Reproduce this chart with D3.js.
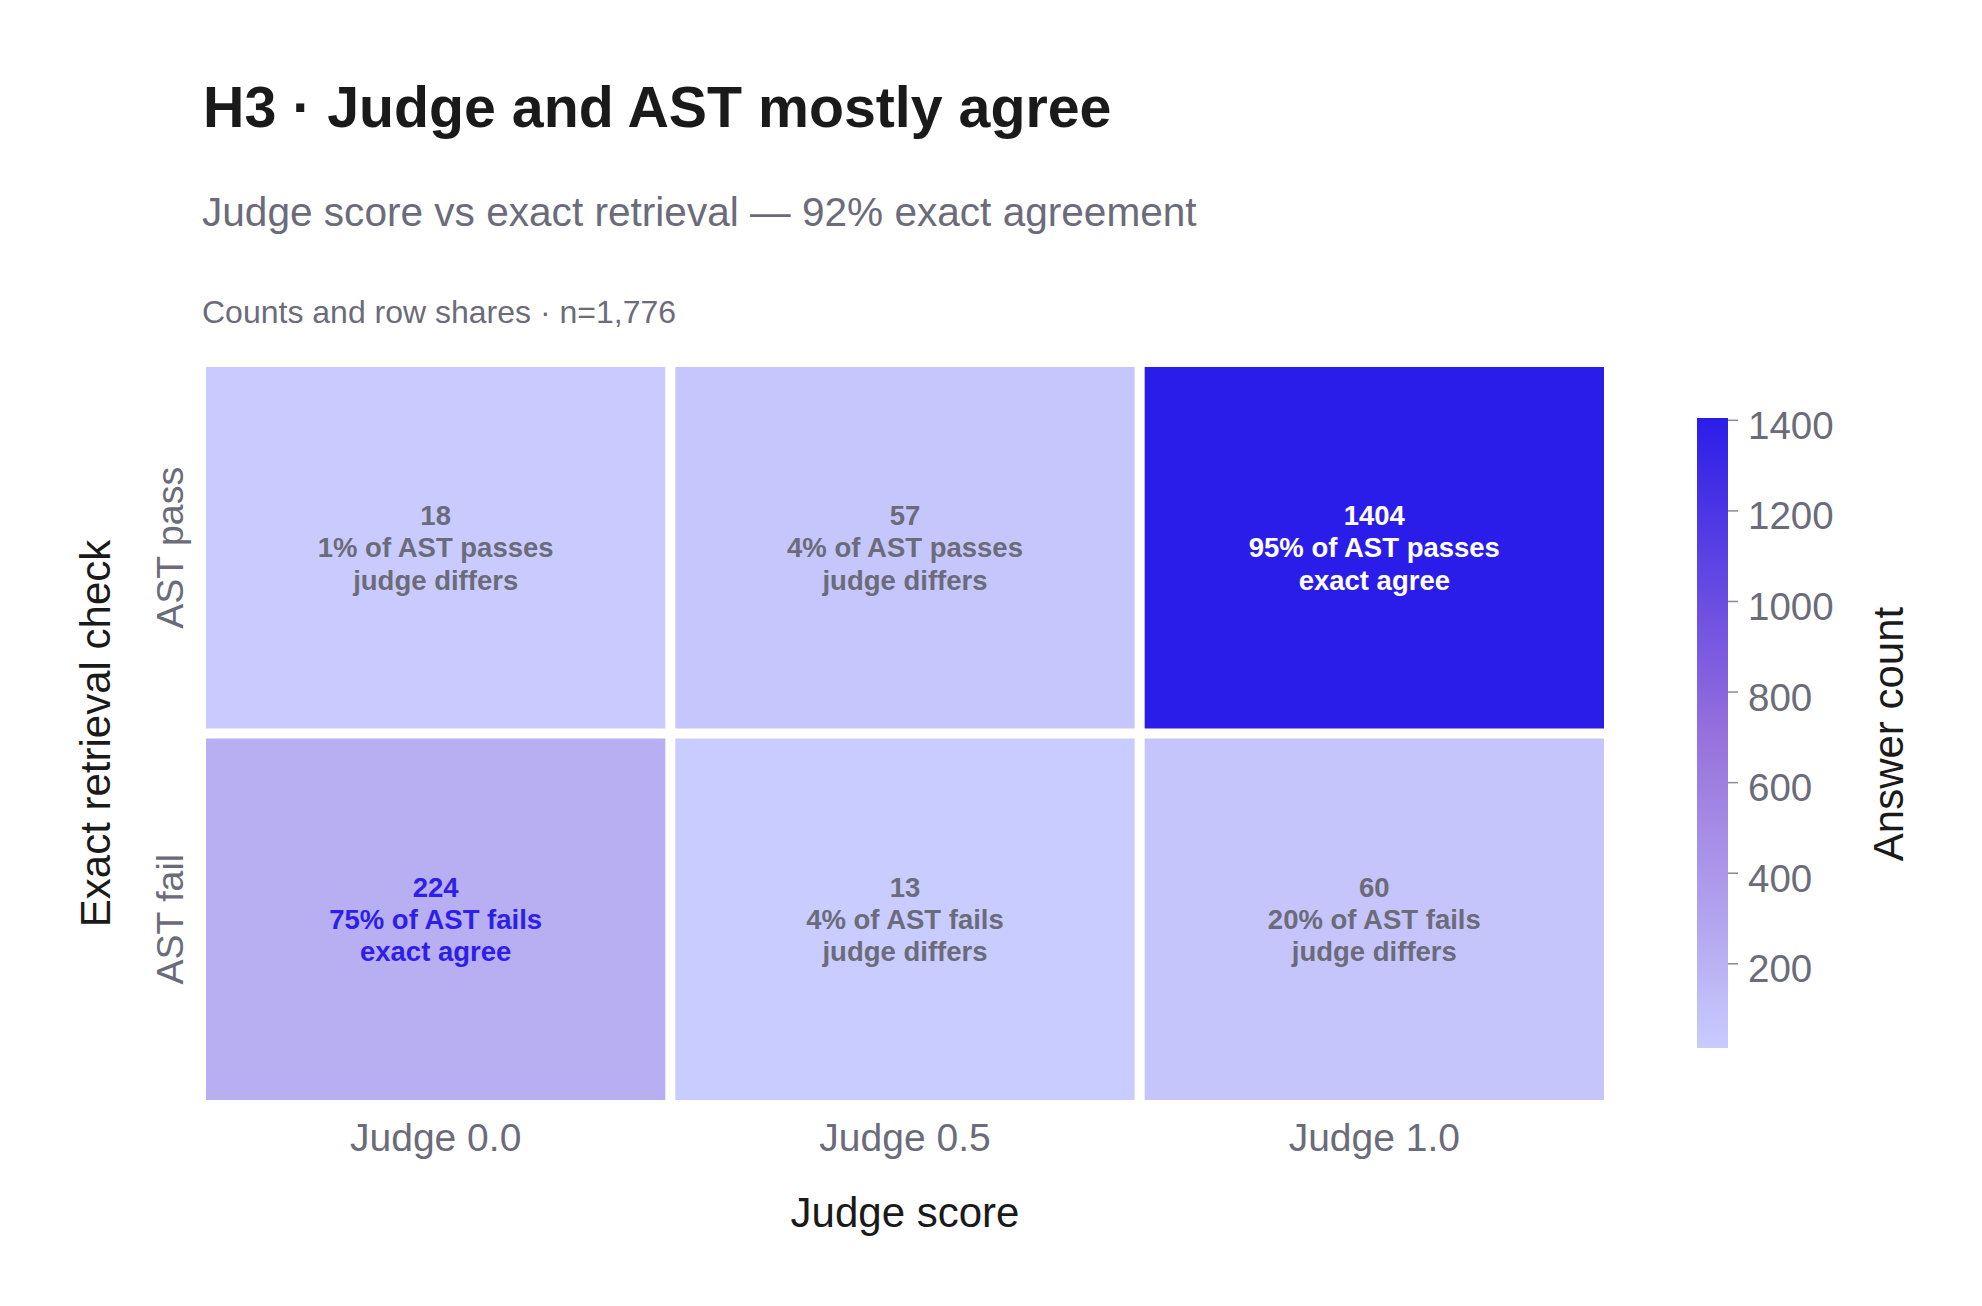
<!DOCTYPE html>
<html>
<head>
<meta charset="utf-8">
<script src="https://cdn.jsdelivr.net/npm/d3@7"></script>
<style>
  html, body { margin: 0; padding: 0; background: #ffffff; }
  svg { display: block; font-family: "Liberation Sans", Arial, Helvetica, sans-serif; }
</style>
</head>
<body>
<svg id="chart" width="1982" height="1306"></svg>
<script>
// ---- data ----
const judgeScores = ["Judge 0.0", "Judge 0.5", "Judge 1.0"];
const astRows = ["AST pass", "AST fail"];
const countsPass = [18, 57, 1404];
const countsFail = [224, 13, 60];
const sharesPass = ["1% of AST passes", "4% of AST passes", "95% of AST passes"];
const sharesFail = ["75% of AST fails", "4% of AST fails", "20% of AST fails"];
const verdictPass = ["judge differs", "judge differs", "exact agree"];
const verdictFail = ["exact agree", "judge differs", "judge differs"];
const colorbarTicks = [200, 400, 600, 800, 1000, 1200, 1400];

const titleText = "H3 · Judge and AST mostly agree";
const subtitleText = "Judge score vs exact retrieval — 92% exact agreement";
const noteText = "Counts and row shares · n=1,776";
const xTitle = "Judge score";
const yTitle = "Exact retrieval check";
const cTitle = "Answer count";

// ---- build cells ----
const counts = [countsPass, countsFail];
const shares = [sharesPass, sharesFail];
const verdicts = [verdictPass, verdictFail];
const cells = [];
astRows.forEach((r, i) => judgeScores.forEach((c, j) => {
  cells.push({ row: r, col: c, value: counts[i][j], share: shares[i][j], verdict: verdicts[i][j] });
}));

const svg = d3.select("#chart");
const INK = "#1a1a1a", MUTED = "#6b6b7a", ACCENT = "#2d1fe8";

// scales
const x = d3.scaleBand().domain(judgeScores).range([201, 1609]);
const y = d3.scaleBand().domain(astRows).range([362, 1105]);
const vmin = d3.min(cells, d => d.value), vmax = d3.max(cells, d => d.value);
const span = vmax - vmin;
const color = d3.scaleLinear()
  .domain([vmin, vmin + 0.15 * span, vmin + 0.5 * span, vmax])
  .range(["#c9ccff", "#b8aef2", "#9670dc", "#2b1de9"])
  .interpolate(d3.interpolateRgb);

// titles
svg.append("text").attr("x", 203).attr("y", 127)
  .attr("font-size", 57.3).attr("font-weight", 700).attr("fill", INK).text(titleText);
svg.append("text").attr("x", 202).attr("y", 226)
  .attr("font-size", 40.6).attr("fill", MUTED).text(subtitleText);
svg.append("text").attr("x", 202).attr("y", 323)
  .attr("font-size", 32).attr("fill", MUTED).text(noteText);

// cells
const gap = 10;
const g = svg.append("g");
const cellG = g.selectAll("g.cell").data(cells).join("g").attr("class", "cell");
cellG.append("rect")
  .attr("x", d => x(d.col) + gap / 2)
  .attr("y", d => y(d.row) + gap / 2)
  .attr("width", x.bandwidth() - gap)
  .attr("height", y.bandwidth() - gap)
  .attr("fill", d => color(d.value));

function textColor(d) {
  if (d.verdict === "exact agree") return d.value > vmin + 0.5 * span ? "#ffffff" : ACCENT;
  return MUTED;
}
const lh = 32.3;
cellG.each(function(d) {
  const cx = x(d.col) + x.bandwidth() / 2;
  const cy = y(d.row) + y.bandwidth() / 2 + 9.7;
  const t = d3.select(this).append("text")
    .attr("text-anchor", "middle")
    .attr("font-size", 27.5).attr("font-weight", 700)
    .attr("fill", textColor(d));
  [String(d.value), d.share, d.verdict].forEach((s, k) => {
    t.append("tspan").attr("x", cx).attr("y", cy + (k - 1) * lh).text(s);
  });
});

// x axis labels
const xAxis = svg.append("g").attr("transform", "translate(0,1151)")
  .call(d3.axisBottom(x).tickSize(0).tickPadding(0));
xAxis.select(".domain").remove();
xAxis.selectAll("text").attr("font-size", 39).attr("fill", MUTED)
  .attr("font-family", "Liberation Sans, Arial, sans-serif").attr("dy", 0);

svg.append("text").attr("x", (201 + 1609) / 2).attr("y", 1227)
  .attr("text-anchor", "middle").attr("font-size", 42).attr("fill", INK).text(xTitle);

// y axis labels (rotated)
const yAxis = svg.append("g").attr("class", "yaxis");
yAxis.selectAll("text").data(astRows).join("text")
  .attr("transform", d => `translate(183,${y(d) + y.bandwidth() / 2}) rotate(-90)`)
  .attr("text-anchor", "middle").attr("font-size", 37.5).attr("fill", MUTED)
  .text(d => d);
svg.append("text")
  .attr("transform", `translate(110,${(362 + 1105) / 2}) rotate(-90)`)
  .attr("text-anchor", "middle").attr("font-size", 42).attr("fill", INK).text(yTitle);

// colorbar
const cbX = 1697, cbW = 31, cbTop = 418, cbBot = 1048;
const cScale = d3.scaleLinear().domain([vmin, vmax]).range([cbBot, cbTop]);
const defs = svg.append("defs");
const grad = defs.append("linearGradient").attr("id", "cbgrad")
  .attr("x1", 0).attr("y1", 1).attr("x2", 0).attr("y2", 0);
d3.range(0, 1.0001, 0.05).forEach(t => {
  grad.append("stop").attr("offset", t).attr("stop-color", color(vmin + t * span));
});
svg.append("rect").attr("x", cbX).attr("y", cbTop).attr("width", cbW)
  .attr("height", cbBot - cbTop).attr("fill", "url(#cbgrad)");
const cAxis = svg.append("g").attr("transform", `translate(${cbX + cbW},0)`)
  .call(d3.axisRight(cScale).tickValues(colorbarTicks).tickSize(10).tickPadding(10).tickFormat(d3.format("d")));
cAxis.select(".domain").remove();
cAxis.selectAll("line").attr("stroke", "#8a8a96").attr("stroke-width", 1.5);
cAxis.selectAll("text").attr("font-size", 38.5).attr("fill", MUTED).attr("dy", "0.48em")
  .attr("font-family", "Liberation Sans, Arial, sans-serif");

svg.append("text")
  .attr("transform", `translate(1903,${(cbTop + cbBot) / 2 + 1}) rotate(-90)`)
  .attr("text-anchor", "middle").attr("font-size", 42).attr("fill", INK).text(cTitle);
</script>
</body>
</html>
